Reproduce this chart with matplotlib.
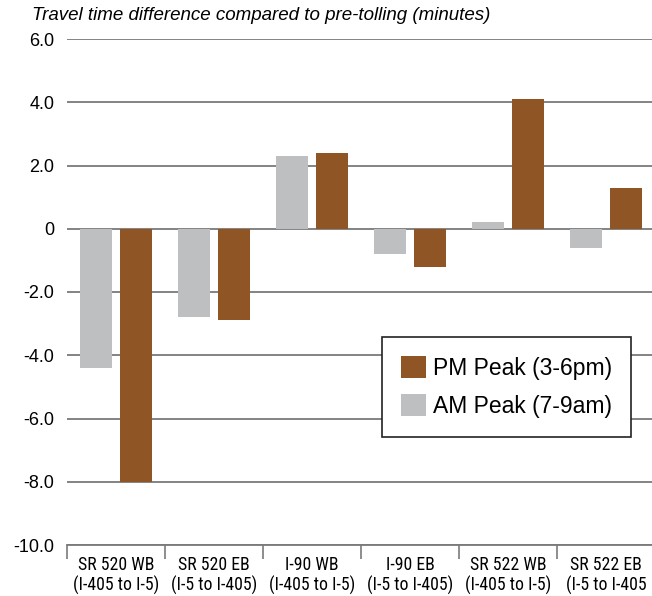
import numpy as np
import matplotlib
matplotlib.use("Agg")
import matplotlib.pyplot as plt
from matplotlib import font_manager
from matplotlib.patches import Patch

# Travel time change vs. pre-tolling, minutes
routes = ["SR 520 WB", "SR 520 EB", "I-90 WB", "I-90 EB", "SR 522 WB", "SR 522 EB"]
segments = ["(I-405 to I-5)", "(I-5 to I-405)", "(I-405 to I-5)",
            "(I-5 to I-405)", "(I-405 to I-5)", "(I-5 to I-405"]
am_peak = [-4.4, -2.8, 2.3, -0.8, 0.2, -0.6]
pm_peak = [-8.0, -2.9, 2.4, -1.2, 4.1, 1.3]

am_color = "#bebfc1"
pm_color = "#8f5525"
grid_color = "#7a7a7a"

plt.rcParams["font.family"] = ["Liberation Sans", "DejaVu Sans"]
plt.rcParams["axes.unicode_minus"] = False


def narrow_font():
    # look for a condensed regular sans face for the category labels
    found = []
    for f in font_manager.fontManager.ttflist:
        if f.style != "normal" or f.weight not in (400, "normal", "regular"):
            continue
        if "Narrow" in f.name or f.stretch in ("condensed", "semi-condensed"):
            found.append(f)
    order = ["Liberation Sans Narrow", "Roboto Condensed", "Noto Sans",
             "Open Sans", "DejaVu Sans"]
    found.sort(key=lambda f: order.index(f.name) if f.name in order else 99)
    if found:
        return font_manager.FontProperties(fname=found[0].fname), found[0].name
    return font_manager.FontProperties(family="Liberation Sans"), None


label_font, label_name = narrow_font()

fig = plt.figure(figsize=(6.52, 5.96), dpi=100)
ax = fig.add_axes([67 / 652, 1 - 545 / 596, 588 / 652, 506 / 596])

x = np.arange(len(routes))
w = 0.327
ax.bar(x - 0.2, am_peak, w, color=am_color, zorder=3)
ax.bar(x + 0.2, pm_peak, w, color=pm_color, zorder=3)

ax.set_xlim(-0.5, len(routes) - 0.5)
ax.set_ylim(-10, 6)
ax.set_yticks(np.arange(-10, 7, 2))
ax.yaxis.set_major_formatter(lambda v, pos: "0" if v == 0 else f"{v:.1f}")
ax.tick_params(axis="y", length=0, pad=9, labelsize=13)
ax.yaxis.grid(True, color=grid_color, linewidth=1.3, zorder=1)

# category labels centred, tick marks between categories
ax.set_xticks(x)
label_size = 12.8 if label_name else 11.5
ax.set_xticklabels([f"{r}\n{s}" for r, s in zip(routes, segments)],
                   fontproperties=label_font, fontsize=label_size,
                   linespacing=1.1)
ax.set_xticks(np.arange(-0.5, len(routes), 1), minor=True)
ax.tick_params(axis="x", which="major", length=0, pad=8)
ax.tick_params(axis="x", which="minor", length=10, width=1.2,
               color=grid_color, direction="out")

for side in ["left", "right", "top"]:
    ax.spines[side].set_visible(False)
ax.spines["bottom"].set_color(grid_color)
ax.spines["bottom"].set_linewidth(1.3)

fig.text(32 / 652, 1 - 16 / 596,
         "Travel time difference compared to pre-tolling (minutes)",
         style="italic", fontsize=13.5, va="center", ha="left")

handles = [Patch(facecolor=pm_color, label="PM Peak (3-6pm)"),
           Patch(facecolor=am_color, label="AM Peak (7-9am)")]
leg = fig.legend(handles=handles, loc="upper left",
                 bbox_to_anchor=(382 / 652, 1 - 337 / 596),
                 fontsize=16.5, fancybox=False, framealpha=1,
                 edgecolor="#222222", handlelength=1.09, handleheight=1.09,
                 handletextpad=0.28, borderpad=0.85, labelspacing=0.6,
                 borderaxespad=0)
leg.get_frame().set_linewidth(1.2)

fig.savefig("out.png", dpi=100)
